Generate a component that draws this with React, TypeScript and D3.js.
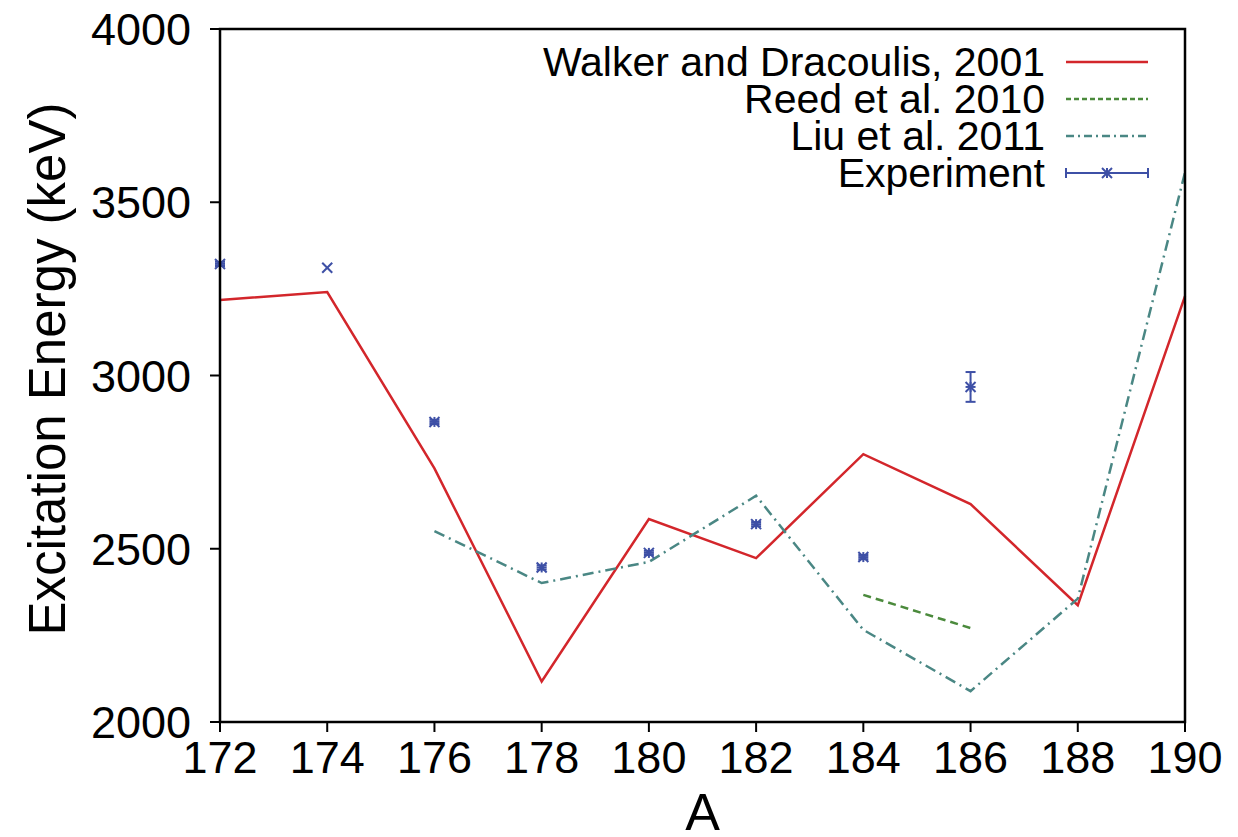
import React from 'react';
import * as d3 from 'd3';

type Pt = { a: number; e: number };

// mass numbers and excitation energies (keV)
const massNumbers = [172, 174, 176, 178, 180, 182, 184, 186, 188, 190];
const walker = [3218, 3241, 2732, 2117, 2586, 2473, 2773, 2629, 2337, 3229];

const reedA = [184, 186];
const reed = [2367, 2271];

const liuA = [176, 178, 180, 182, 184, 186, 188, 190];
const liu = [2551, 2401, 2462, 2653, 2266, 2089, 2356, 3586];

const expA = [172, 176, 178, 180, 182, 184, 186];
const expE = [3322, 2866, 2446, 2488, 2571, 2476, 2967];
const expErr = [6, 6, 6, 6, 6, 6, 43];

// point at A=174 drawn with a plain cross
const crossA = [174];
const crossE = [3311];

const xTicks = [172, 174, 176, 178, 180, 182, 184, 186, 188, 190];
const yTicks = [2000, 2500, 3000, 3500, 4000];

const legendLabels = ['Walker and Dracoulis, 2001', 'Reed et al. 2010', 'Liu et al. 2011', 'Experiment'];

const W = 1238;
const H = 837;
const margin = { top: 29, right: 53, bottom: 115, left: 220 };

const RED = '#d3262b';
const GREEN = '#4b8a3c';
const TEAL = '#4a8784';
const BLUE = '#3e50a6';
const FONT = 'Liberation Sans, Arial, Helvetica, sans-serif';

const zip = (a: number[], e: number[]): Pt[] => a.map((v, i) => ({ a: v, e: e[i] }));

export default function App() {
  const x = d3.scaleLinear().domain([172, 190]).range([margin.left, W - margin.right]);
  const y = d3.scaleLinear().domain([2000, 4000]).range([H - margin.bottom, margin.top]);

  const line = d3.line<Pt>()
    .x(d => x(d.a))
    .y(d => y(d.e));

  const x0 = x.range()[0];
  const x1 = x.range()[1];
  const y0 = y.range()[0];
  const y1 = y.range()[1];

  const star = (cx: number, cy: number, s: number, key: string) => (
    <g key={key} stroke={BLUE} strokeWidth={2}>
      <line x1={cx - s} y1={cy} x2={cx + s} y2={cy} />
      <line x1={cx} y1={cy - s} x2={cx} y2={cy + s} />
      <line x1={cx - s} y1={cy - s} x2={cx + s} y2={cy + s} />
      <line x1={cx - s} y1={cy + s} x2={cx + s} y2={cy - s} />
    </g>
  );

  const legendX = 1045;
  const sampleX0 = 1066;
  const sampleX1 = 1148;
  const rowY = (i: number) => 62 + i * 37;

  return (
    <svg width={W} height={H} style={{ position: 'absolute', left: 0, top: 0, background: '#fff' }} fontFamily={FONT}>
      {/* series */}
      <path d={line(zip(massNumbers, walker)) || ''} fill="none" stroke={RED} strokeWidth={2.5} />
      <path d={line(zip(reedA, reed)) || ''} fill="none" stroke={GREEN} strokeWidth={2.5} strokeDasharray="8,5" />
      <path d={line(zip(liuA, liu)) || ''} fill="none" stroke={TEAL} strokeWidth={2.5} strokeDasharray="11,5,2,5" />

      {expA.map((a, i) => {
        const cx = x(a);
        const cy = y(expE[i]);
        const top = y(expE[i] + expErr[i]);
        const bot = y(expE[i] - expErr[i]);
        return (
          <g key={'e' + i}>
            <g stroke={BLUE} strokeWidth={2}>
              <line x1={cx} y1={top} x2={cx} y2={bot} />
              <line x1={cx - 5} y1={top} x2={cx + 5} y2={top} />
              <line x1={cx - 5} y1={bot} x2={cx + 5} y2={bot} />
            </g>
            {star(cx, cy, 5, 's' + i)}
          </g>
        );
      })}
      {crossA.map((a, i) => {
        const cx = x(a);
        const cy = y(crossE[i]);
        return (
          <g key={'c' + i} stroke={BLUE} strokeWidth={2}>
            <line x1={cx - 5} y1={cy - 5} x2={cx + 5} y2={cy + 5} />
            <line x1={cx - 5} y1={cy + 5} x2={cx + 5} y2={cy - 5} />
          </g>
        );
      })}

      {/* frame */}
      <rect x={x0} y={y1} width={x1 - x0} height={y0 - y1} fill="none" stroke="#000" strokeWidth={2.5} />

      {/* x axis */}
      {xTicks.map(t => (
        <g key={'xt' + t}>
          <line x1={x(t)} y1={y0} x2={x(t)} y2={y0 + 10} stroke="#000" strokeWidth={2} />
          <text x={x(t)} y={y0 + 51} textAnchor="middle" fontSize={45} fill="#000">{t}</text>
        </g>
      ))}
      {/* y axis */}
      {yTicks.map(t => (
        <g key={'yt' + t}>
          <line x1={x0 - 10} y1={y(t)} x2={x0} y2={y(t)} stroke="#000" strokeWidth={2} />
          <text x={x0 - 29} y={y(t) + 16} textAnchor="end" fontSize={45} fill="#000">{t}</text>
        </g>
      ))}

      <text x={(x0 + x1) / 2} y={830} textAnchor="middle" fontSize={52} fill="#000">A</text>
      <text transform={`translate(65, 369) rotate(-90)`} textAnchor="middle" fontSize={51} fill="#000">
        Excitation Energy (keV)
      </text>

      {/* legend */}
      {legendLabels.map((lab, i) => (
        <text key={'l' + i} x={legendX} y={rowY(i) + 14} textAnchor="end" fontSize={41} fill="#000">{lab}</text>
      ))}
      <line x1={sampleX0} y1={rowY(0)} x2={sampleX1} y2={rowY(0)} stroke={RED} strokeWidth={2.5} />
      <line x1={sampleX0} y1={rowY(1)} x2={sampleX1} y2={rowY(1)} stroke={GREEN} strokeWidth={2.5} strokeDasharray="5,3" />
      <line x1={sampleX0} y1={rowY(2)} x2={sampleX1} y2={rowY(2)} stroke={TEAL} strokeWidth={2.5} strokeDasharray="8,4,2,4" />
      <g stroke={BLUE} strokeWidth={2}>
        <line x1={sampleX0} y1={rowY(3)} x2={sampleX1} y2={rowY(3)} />
        <line x1={sampleX0} y1={rowY(3) - 5} x2={sampleX0} y2={rowY(3) + 5} />
        <line x1={sampleX1} y1={rowY(3) - 5} x2={sampleX1} y2={rowY(3) + 5} />
      </g>
      {star((sampleX0 + sampleX1) / 2, rowY(3), 5, 'legstar')}
    </svg>
  );
}
